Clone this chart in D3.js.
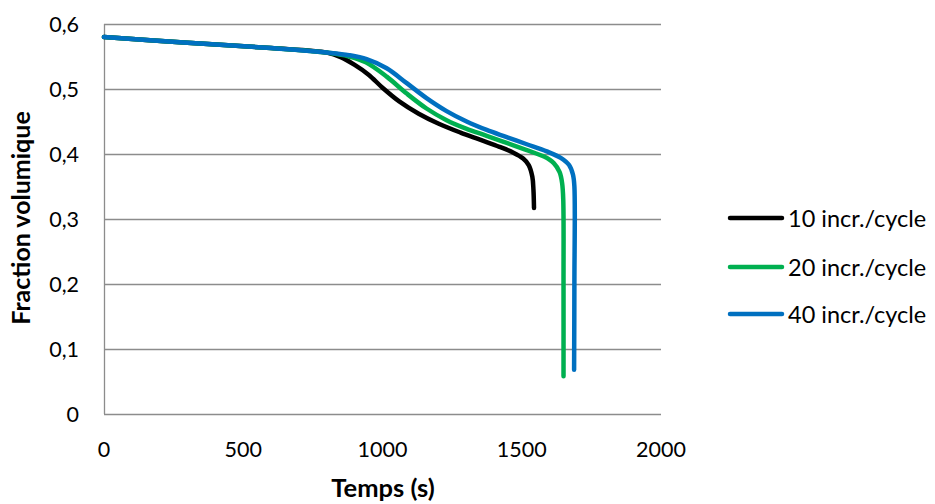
<!DOCTYPE html>
<html><head><meta charset="utf-8">
<script src="https://cdn.jsdelivr.net/npm/d3@7"></script>
<style>
body{margin:0;background:#fff;}
text{font-family:Lato,"Open Sans",sans-serif;fill:#000;}
</style></head>
<body><svg id="c" width="935" height="504"></svg>
<script>
const xTicks = [0, 500, 1000, 1500, 2000];
const yTicks = [0, 0.1, 0.2, 0.3, 0.4, 0.5, 0.6];
const seriesNames = ["10 incr./cycle", "20 incr./cycle", "40 incr./cycle"];
const seriesColors = ["#000000", "#00b050", "#0070c0"];

const time10 = [0, 300, 600, 800, 850, 900, 950, 1000, 1060, 1130, 1200, 1280, 1350, 1420, 1470, 1505, 1525, 1538, 1542, 1544];
const vf10   = [0.58, 0.571, 0.563, 0.556, 0.549, 0.537, 0.522, 0.502, 0.481, 0.462, 0.447, 0.433, 0.422, 0.411, 0.402, 0.393, 0.383, 0.365, 0.345, 0.317];

const time20 = [0, 300, 600, 800, 880, 940, 1015, 1087, 1158, 1230, 1300, 1374, 1446, 1518, 1580, 1615, 1636, 1645, 1649, 1650, 1650];
const vf20   = [0.58, 0.571, 0.563, 0.556, 0.550, 0.541, 0.519, 0.493, 0.470, 0.452, 0.439, 0.428, 0.417, 0.406, 0.396, 0.386, 0.372, 0.355, 0.33, 0.2, 0.058];

const time40 = [0, 300, 600, 800, 880, 943, 1015, 1087, 1158, 1230, 1302, 1374, 1446, 1518, 1590, 1640, 1670, 1684, 1689, 1689, 1688];
const vf40   = [0.58, 0.571, 0.563, 0.556, 0.552, 0.546, 0.532, 0.509, 0.486, 0.466, 0.450, 0.437, 0.426, 0.415, 0.404, 0.394, 0.383, 0.368, 0.35, 0.2, 0.068];

const svg = d3.select("#c");
const L = 104, R = 661, T = 24, B = 414;
const x = d3.scaleLinear().domain([0, 2000]).range([L, R]);
const y = d3.scaleLinear().domain([0, 0.6]).range([B, T]);
const fmt = v => d3.format(".1f")(v).replace(".", ",");

// gridlines
svg.append("g").selectAll("line").data(yTicks).join("line")
  .attr("x1", L).attr("x2", R)
  .attr("y1", d => Math.round(y(d)) + 0.5).attr("y2", d => Math.round(y(d)) + 0.5)
  .attr("stroke", "#8c8c8c").attr("stroke-width", 1.3);
// left axis line
svg.append("line").attr("x1", L + 0.5).attr("x2", L + 0.5).attr("y1", T).attr("y2", B)
  .attr("stroke", "#8c8c8c").attr("stroke-width", 1.3);

// y labels
svg.append("g").selectAll("text").data(yTicks).join("text")
  .attr("x", 79).attr("y", d => y(d) + 8)
  .attr("text-anchor", "end").attr("font-size", 21.5)
  .text(d => d === 0 ? "0" : fmt(d));
// x labels
svg.append("g").selectAll("text").data(xTicks).join("text")
  .attr("x", d => x(d)).attr("y", 457)
  .attr("text-anchor", "middle").attr("font-size", 21.5)
  .text(d => d);

// titles
svg.append("text").attr("x", 383).attr("y", 497).attr("text-anchor", "middle")
  .attr("font-size", 25.5).attr("font-weight", "bold").text("Temps (s)");
svg.append("text").attr("transform", "translate(30,218) rotate(-90)").attr("text-anchor", "middle")
  .attr("font-size", 25).attr("font-weight", "bold").text("Fraction volumique");

const series = [
  time10.map((t, i) => [t, vf10[i]]),
  time20.map((t, i) => [t, vf20[i]]),
  time40.map((t, i) => [t, vf40[i]])
];
const line = d3.line().x(d => x(d[0])).y(d => y(d[1])).curve(d3.curveCatmullRom.alpha(0.5));
svg.append("g").selectAll("path").data(series).join("path")
  .attr("d", line).attr("fill", "none")
  .attr("stroke", (d, i) => seriesColors[i]).attr("stroke-width", 4.5)
  .attr("stroke-linecap", "round").attr("stroke-linejoin", "round");

// legend
const legY = [218, 267, 314];
const lg = svg.append("g").selectAll("g").data(seriesNames).join("g");
lg.append("line").attr("x1", 730).attr("x2", 782)
  .attr("y1", (d, i) => legY[i]).attr("y2", (d, i) => legY[i])
  .attr("stroke", (d, i) => seriesColors[i]).attr("stroke-width", 4.5).attr("stroke-linecap", "round");
lg.append("text").attr("x", 788).attr("y", (d, i) => legY[i] + 8.5)
  .attr("font-size", 23.5).text(d => d);
</script></body></html>
